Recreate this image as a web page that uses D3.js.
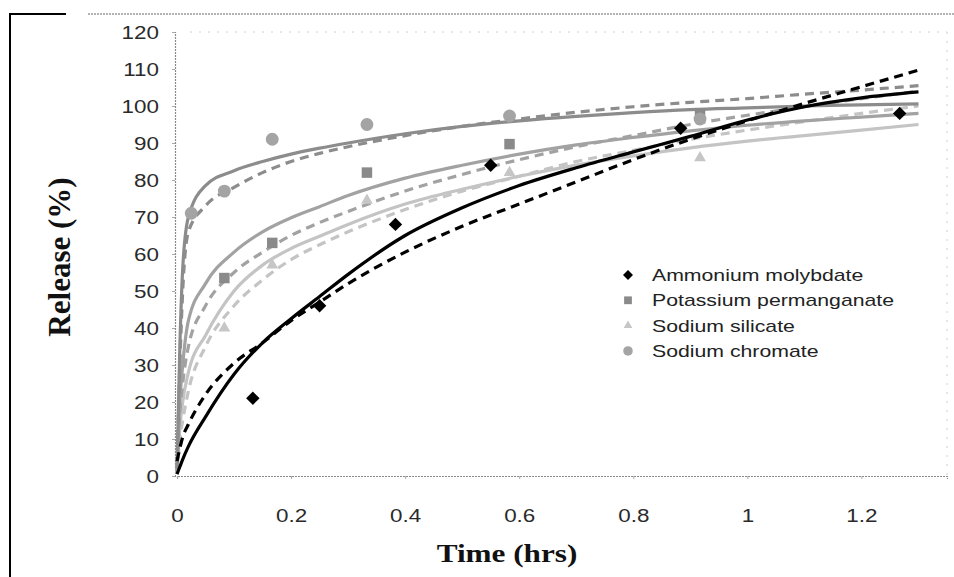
<!DOCTYPE html>
<html>
<head>
<meta charset="utf-8">
<script src="https://cdn.jsdelivr.net/npm/d3@7/dist/d3.min.js"></script>
<style>
  html, body { margin: 0; padding: 0; background: #fff; }
  svg { display: block; }
</style>
</head>
<body>
<svg id="chart" width="954" height="577"></svg>
<script>
// Axis ticks
const xTicks = [0, 0.2, 0.4, 0.6, 0.8, 1, 1.2];
const yTicks = [0, 10, 20, 30, 40, 50, 60, 70, 80, 90, 100, 110, 120];

// Series names (legend order)
const seriesNames = ["Ammonium molybdate", "Potassium permanganate", "Sodium silicate", "Sodium chromate"];

// Measured release (%) vs time (hrs)
const molybdateT = [0.133, 0.25, 0.383, 0.55, 0.883, 1.267];
const molybdateR = [21, 46, 68, 84, 94, 98];
const permanganateT = [0.083, 0.167, 0.333, 0.583, 0.917];
const permanganateR = [53.5, 63, 82, 89.7, 97.8];
const silicateT = [0.083, 0.167, 0.333, 0.583, 0.917];
const silicateR = [40, 57, 74.5, 82, 86];
const chromateT = [0.025, 0.083, 0.167, 0.333, 0.583, 0.917];
const chromateR = [71, 77, 91, 95, 97.3, 96.5];

// Model curves: solid and dashed fits for each salt
const fitT = [0, 0.005, 0.01, 0.02, 0.05, 0.1, 0.15, 0.2, 0.25, 0.3, 0.4, 0.5, 0.6, 0.7, 0.8, 0.9, 1.0, 1.1, 1.2, 1.3];
const molybdateSolid  = [0.5, 2.5, 4.5, 8, 16, 27.5, 36, 42.5, 48.5, 54.5, 65, 72.5, 78.5, 83.3, 87.6, 91.8, 96.2, 99.8, 102.2, 103.8];
const molybdateDashed = [4, 7.5, 10.5, 14, 22, 30.5, 36, 42, 47, 52, 60.5, 67.5, 73.5, 79.5, 85.5, 91, 96, 100.7, 105.2, 109.7];
const permanganateSolid  = [1, 20, 30, 42, 52, 60.5, 66, 69.8, 72.8, 75.8, 80.5, 84, 87, 89.5, 91.5, 93.3, 94.8, 96, 97, 98];
const permanganateDashed = [1, 17, 25, 35, 46, 55, 60.5, 65, 68.5, 71.5, 77, 81.5, 85.5, 89, 92, 95, 97.5, 99.8, 102, 104];
const silicateSolid  = [0.5, 13, 20, 28, 38, 50, 57, 61.5, 64.8, 68, 73.5, 77.5, 81, 84, 86.5, 88.7, 90.5, 92, 93.5, 95];
const silicateDashed = [0.5, 10, 15, 23, 35, 46, 53, 58.5, 62.5, 66, 72, 77, 81, 85, 88, 91, 93.5, 95.8, 98, 100];
const chromateSolid  = [2, 35, 56, 70, 78.5, 82.5, 85, 87, 88.6, 90, 92.5, 94.5, 96, 97.2, 98.2, 99, 99.5, 100, 100.3, 100.6];
const chromateDashed = [2, 30, 50, 66, 73, 78, 82, 85, 87.2, 89, 92, 94.5, 96.5, 98.3, 99.8, 101, 102, 103.2, 104.3, 105.5];

const svg = d3.select("#chart");

const x = d3.scaleLinear().domain([0, 1.35]).range([177, 947]);
const y = d3.scaleLinear().domain([0, 120]).range([476, 32]);

const sans = "'Liberation Sans', Arial, sans-serif";
const serif = "'Liberation Serif', 'Times New Roman', serif";

// Outer frame
svg.append("line").attr("x1", 10).attr("x2", 10).attr("y1", 13).attr("y2", 577)
  .attr("stroke", "#000").attr("stroke-width", 2);
svg.append("line").attr("x1", 9).attr("x2", 66).attr("y1", 14).attr("y2", 14)
  .attr("stroke", "#000").attr("stroke-width", 2);
svg.append("line").attr("x1", 88).attr("x2", 954).attr("y1", 14).attr("y2", 14)
  .attr("stroke", "#9a9a9a").attr("stroke-width", 1.5).attr("stroke-dasharray", "2,1");

// Plot area border (faint)
svg.append("line").attr("x1", 190).attr("x2", 947).attr("y1", 32).attr("y2", 32)
  .attr("stroke", "#d0d0d0").attr("stroke-width", 1).attr("stroke-dasharray", "2,7");
svg.append("line").attr("x1", 947).attr("x2", 947).attr("y1", 32).attr("y2", 476)
  .attr("stroke", "#d0d0d0").attr("stroke-width", 1).attr("stroke-dasharray", "2,7");

// Axes
const yAxis = d3.axisLeft(y).tickValues(yTicks).tickSize(3).tickPadding(16).tickFormat(d3.format("d"));
const xAxis = d3.axisBottom(x).tickValues(xTicks).tickSize(3).tickPadding(30).tickFormat(d => String(d));

const gy = svg.append("g").attr("transform", "translate(175,0)").call(yAxis);
const gx = svg.append("g").attr("transform", "translate(0,476)").call(xAxis);

[gx, gy].forEach(g => {
  g.select(".domain").attr("stroke", "#8a8a8a").attr("stroke-width", 1.2).attr("stroke-dasharray", "2,1");
  g.selectAll(".tick line").attr("stroke", "#aaa");
  g.selectAll(".tick text")
    .attr("font-family", sans)
    .attr("font-size", 19).attr("fill", "#2a2a2a");
});
// slightly wide digit faces
gx.selectAll(".tick text").attr("transform", "scale(1.18,1)")
  .attr("x", 0).attr("dx", 0);
gy.selectAll(".tick text").each(function () {
  const t = d3.select(this);
  t.attr("x", -16 / 1.18).attr("transform", "scale(1.18,1)");
});

// Axis titles
svg.append("text")
  .attr("transform", "translate(70,257) rotate(-90)")
  .attr("text-anchor", "middle")
  .attr("font-family", serif)
  .attr("font-weight", "bold").attr("font-size", 31).attr("fill", "#111")
  .text("Release (%)");
svg.append("text")
  .attr("transform", "translate(507,562) scale(1.2,1)")
  .attr("text-anchor", "middle")
  .attr("font-family", serif)
  .attr("font-weight", "bold").attr("font-size", 26).attr("fill", "#111")
  .text("Time (hrs)");

// Fitted curves
const line = d3.line().x((d, i) => x(fitT[i])).y(d => y(d)).curve(d3.curveMonotoneX);
const curves = [
  { v: silicateSolid, c: "#c4c4c4", dash: null },
  { v: silicateDashed, c: "#c4c4c4", dash: "9,6" },
  { v: permanganateSolid, c: "#a2a2a2", dash: null },
  { v: permanganateDashed, c: "#a2a2a2", dash: "9,6" },
  { v: chromateSolid, c: "#8c8c8c", dash: null },
  { v: chromateDashed, c: "#8c8c8c", dash: "9,6" },
  { v: molybdateSolid, c: "#000", dash: null },
  { v: molybdateDashed, c: "#000", dash: "9,6" }
];
svg.append("g").selectAll("path").data(curves).join("path")
  .attr("d", d => line(d.v))
  .attr("fill", "none")
  .attr("stroke", d => d.c)
  .attr("stroke-width", 3.2)
  .attr("stroke-dasharray", d => d.dash);

// Markers (diamond is a square turned 45 degrees)
const markerDefs = [
  { t: molybdateT, r: molybdateR, sym: d3.symbolSquare, size: 90, rot: 45, c: "#000" },
  { t: permanganateT, r: permanganateR, sym: d3.symbolSquare, size: 110, rot: 0, c: "#8a8a8a" },
  { t: silicateT, r: silicateR, sym: d3.symbolTriangle, size: 60, rot: 0, c: "#c6c6c6" },
  { t: chromateT, r: chromateR, sym: d3.symbolCircle, size: 130, rot: 0, c: "#a4a4a4" }
];
markerDefs.forEach(m => {
  svg.append("g").selectAll("path").data(m.t).join("path")
    .attr("transform", (d, i) => `translate(${x(d)},${y(m.r[i])}) rotate(${m.rot})`)
    .attr("d", d3.symbol().type(m.sym).size(m.size)())
    .attr("fill", m.c);
});

// Legend
const legend = svg.append("g").attr("transform", "translate(628,275)");
seriesNames.forEach((name, i) => {
  const m = markerDefs[i];
  const row = legend.append("g").attr("transform", `translate(0,${i * 25.3})`);
  row.append("path")
    .attr("transform", `rotate(${m.rot})`)
    .attr("d", d3.symbol().type(m.sym).size(m.size * 0.55)())
    .attr("fill", m.c);
  row.append("text")
    .attr("transform", "translate(24,6) scale(1.25,1)")
    .attr("font-family", sans)
    .attr("font-size", 17).attr("fill", "#222")
    .text(name);
});
</script>
</body>
</html>
